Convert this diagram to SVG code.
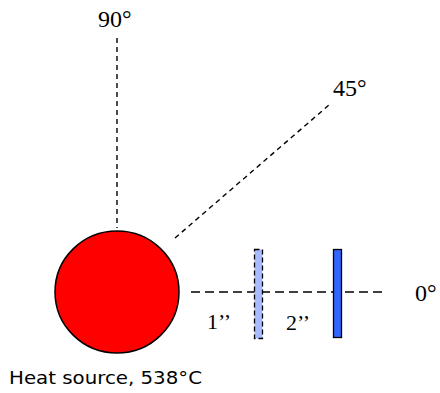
<svg xmlns="http://www.w3.org/2000/svg" width="440" height="393" viewBox="0 0 440 393">
<style>
.dash{stroke:#000;stroke-width:1.4;stroke-dasharray:5 4;fill:none}
.dashh{stroke:#000;stroke-width:1.4;stroke-dasharray:9 5;fill:none}
.lbl{font-family:"Liberation Serif",serif;font-size:24px;fill:#000}
.dim{font-family:"Liberation Serif",serif;font-size:22px;fill:#000}
.cap{font-family:"DejaVu Sans","Liberation Sans",sans-serif;font-size:17px;fill:#000}
</style>
<rect width="440" height="393" fill="#fff"/>
<g id="connectors">
<line class="dash" x1="117" y1="38" x2="117" y2="228"/>
<line class="dash" x1="175" y1="238" x2="329" y2="105"/>
<line class="dashh" x1="191" y1="292" x2="386" y2="292"/>
</g>
<g id="source">
<ellipse cx="117" cy="292" rx="62" ry="61" fill="#ff0000" stroke="#000" stroke-width="1.5"/>
</g>
<g id="plate1">
<rect x="254.5" y="249.5" width="8" height="89" fill="#a9bbff" stroke="#000" stroke-width="1.3" stroke-dasharray="5 3"/>
</g>
<g id="plate2">
<rect x="333.5" y="249.5" width="8" height="88" fill="#3366ff" stroke="#000" stroke-width="1.3"/>
</g>
<g id="labels">
<text class="lbl" x="98" y="27">90°</text>
<text class="lbl" x="333" y="96">45°</text>
<text class="lbl" x="415" y="301">0°</text>
<text class="dim" x="207" y="329">1’’</text>
<text class="dim" x="286" y="330">2’’</text>
<text class="cap" x="9" y="384" textLength="193" lengthAdjust="spacingAndGlyphs">Heat source, 538°C</text>
</g>
</svg>
